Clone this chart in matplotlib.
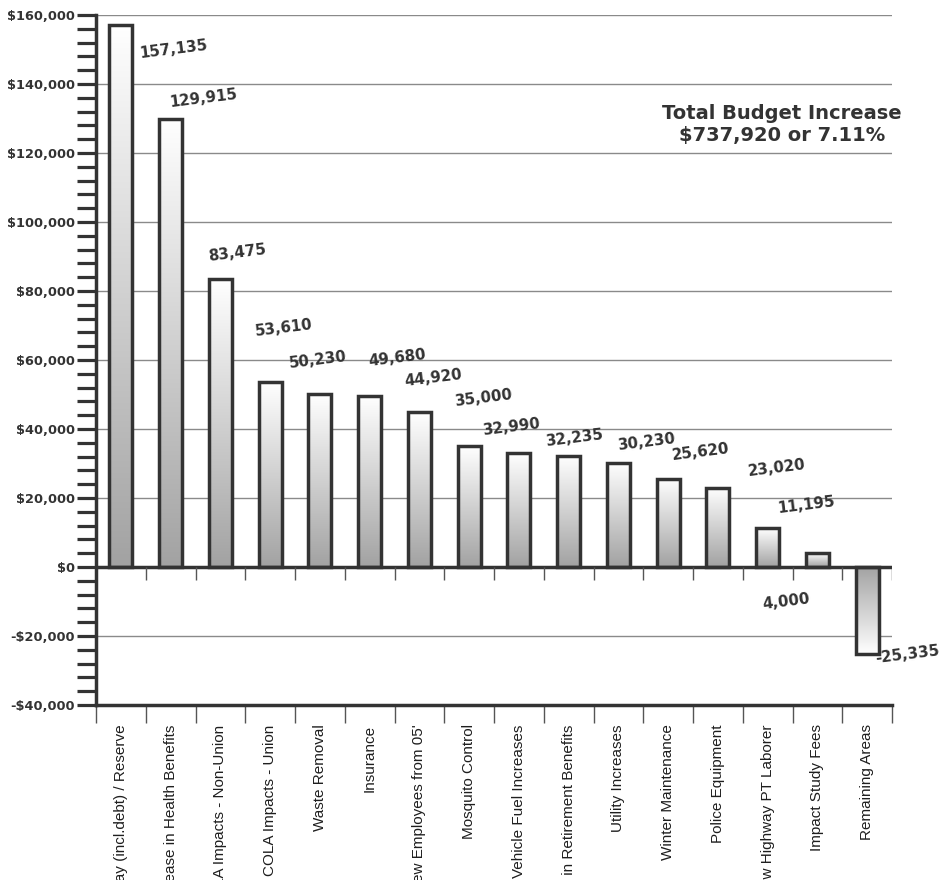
import numpy as np
import matplotlib
matplotlib.use("Agg")
import matplotlib.pyplot as plt
from matplotlib.colors import LinearSegmentedColormap
from matplotlib.ticker import FuncFormatter, MultipleLocator

categories = [
    "Capital Outlay (incl.debt) / Reserve",
    "Increase in Health Benefits",
    "COLA Impacts - Non-Union",
    "COLA Impacts - Union",
    "Waste Removal",
    "Insurance",
    "New Employees from 05'",
    "Mosquito Control",
    "Vehicle Fuel Increases",
    "Increases in Retirement Benefits",
    "Utility Increases",
    "Winter Maintenance",
    "Police Equipment",
    "New Highway PT Laborer",
    "Impact Study Fees",
    "Remaining Areas",
]
amounts = [157135, 129915, 83475, 53610, 50230, 49680, 44920, 35000,
           32990, 32235, 30230, 25620, 23020, 11195, 4000, -25335]

# value labels sit off their bars: x shift in bar slots, y shift in dollars
label_dx = [1.05, 0.66, 0.33, 0.27, -0.05, 0.56, 0.29, 0.30,
            -0.14, 0.13, 0.57, 0.66, 1.19, 0.77, -0.63, 0.82]
label_dy = [-7200, 6000, 7500, 15700, 9800, 10900, 9900, 14000,
            7600, 5200, 6000, 7700, 5700, 6800, -14100, -200]

total_note = "Total Budget Increase\n$737,920 or 7.11%"

DARK = "#333333"
GRID = "#8a8a8a"

fig = plt.figure(figsize=(9.43, 8.8), dpi=100)
ax = fig.add_axes([96 / 943, 1 - 705 / 880, 796 / 943, 690 / 880])

x = np.arange(len(categories))
bars = ax.bar(x, amounts, width=0.46, facecolor="none", edgecolor=DARK,
              linewidth=2.5, zorder=3)

# grey at the baseline fading to white at the bar's end
shade = LinearSegmentedColormap.from_list("shade", ["#a2a2a2", "#ffffff"])
grad = np.linspace(0, 1, 256).reshape(-1, 1)
for bar, v in zip(bars, amounts):
    x0, w = bar.get_x(), bar.get_width()
    im = ax.imshow(grad, extent=(x0, x0 + w, 0, v), origin="lower",
                   cmap=shade, aspect="auto", zorder=2)
    im.set_clip_path(bar)

ax.set_xlim(-0.5, len(categories) - 0.5)
ax.set_ylim(-40000, 160000)

# y axis
ax.yaxis.set_major_locator(MultipleLocator(20000))
ax.yaxis.set_minor_locator(MultipleLocator(4000))
ax.yaxis.set_major_formatter(FuncFormatter(
    lambda v, _: f"${v:,.0f}" if v >= 0 else f"-${-v:,.0f}"))
ax.tick_params(axis="y", which="both", direction="out", length=14,
               width=2.3, color=DARK, pad=1)
for lab in ax.get_yticklabels():
    lab.set_fontfamily("DejaVu Sans")
    lab.set_fontweight("bold")
    lab.set_fontsize(9.3)
    lab.set_color(DARK)
ax.yaxis.grid(True, which="major", color=GRID, linewidth=1.0, zorder=1)
ax.set_axisbelow(True)

# x axis: ticks at slot boundaries, names at bar centres
bounds = np.arange(-0.5, len(categories))
ax.set_xticks(bounds)
ax.set_xticklabels([])
ax.set_xticks(x, minor=True)
ax.set_xticklabels(categories, minor=True, rotation=90, fontsize=11,
                   family="Liberation Sans", color="#1e1e1e")
ax.tick_params(axis="x", which="major", direction="out", length=13,
               width=1.0, color="#555555")
ax.tick_params(axis="x", which="minor", length=0, pad=14)

for side in ("top", "right"):
    ax.spines[side].set_visible(False)
for side in ("left", "bottom"):
    ax.spines[side].set_color(DARK)
    ax.spines[side].set_linewidth(2.5)

# zero line with short hanging ticks
ax.axhline(0, color=DARK, linewidth=2.5, zorder=4)
ax.vlines(bounds[1:], 0, -3700, color="#555555", linewidth=1.0, zorder=4)

for i, v in enumerate(amounts):
    ax.text(i + label_dx[i], v + label_dy[i], f"{v:,}", rotation=7,
            ha="center", va="center", fontsize=10.8, fontweight="bold",
            family="DejaVu Sans", color=DARK, zorder=5)

ax.text(0.862, 0.842, total_note, transform=ax.transAxes, ha="center",
        va="center", fontsize=14, fontweight="bold", family="DejaVu Sans",
        color=DARK, linespacing=1.2)

fig.savefig("out.png", dpi=100, facecolor="white")
